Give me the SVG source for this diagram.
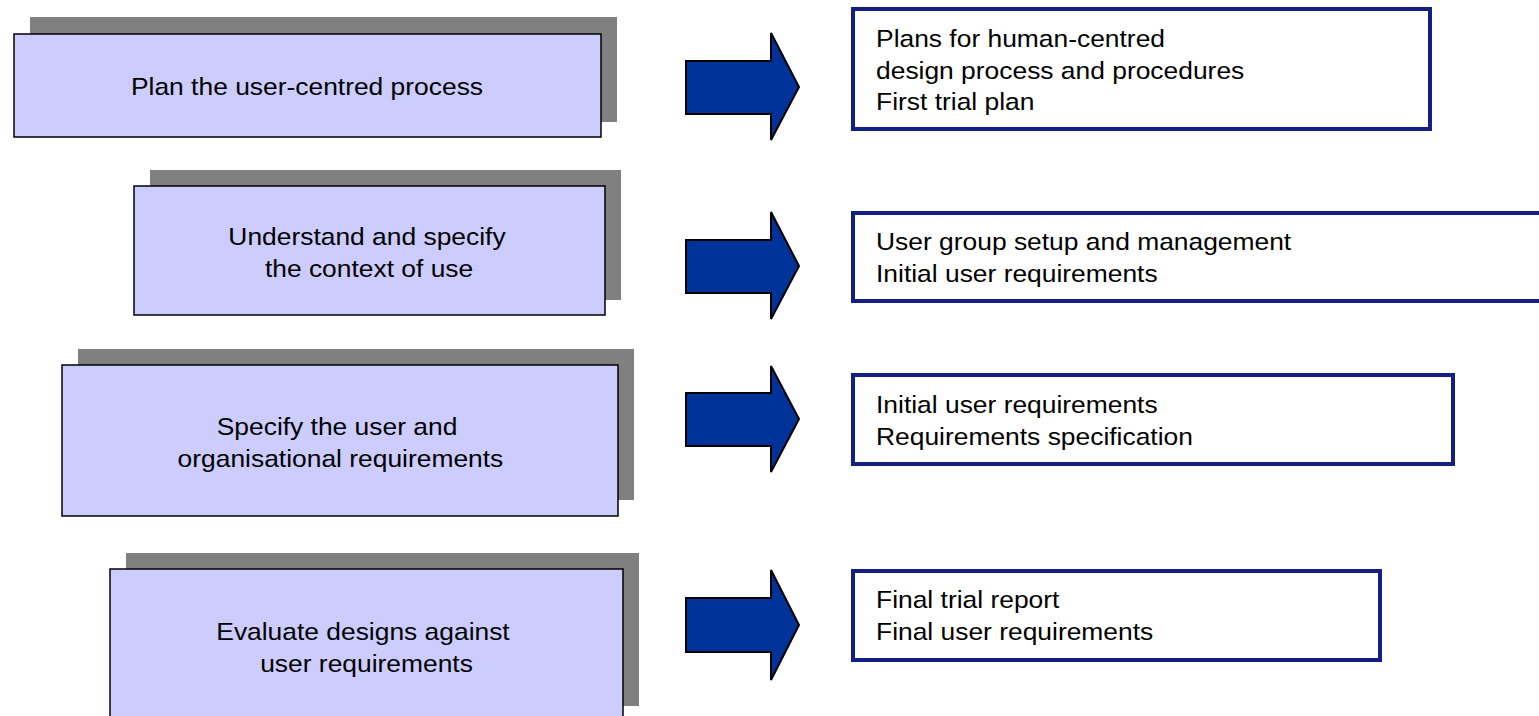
<svg xmlns="http://www.w3.org/2000/svg" width="1539" height="716" viewBox="0 0 1539 716">
<style>
.shadow{fill:#808080;stroke:none}
.step{fill:#CCCCFF;stroke:#000;stroke-width:1.5}
.out{fill:#fff;stroke:#141F86;stroke-width:4}
.arrow{fill:#003399;stroke:#000;stroke-width:2;stroke-linejoin:miter}
text{font-family:"Liberation Sans",Arial,sans-serif;font-size:24px;fill:#000}
.c{text-anchor:middle}
</style>
<rect width="1539" height="716" fill="#fff"/>
<g id="step1">
<rect class="shadow" x="30" y="17" width="587" height="105"/>
<rect class="step" x="14" y="34" width="587" height="103"/>
<text class="c" transform="scale(1.1,1)" x="279.1" y="95">Plan the user-centred process</text>
</g>
<g id="step2">
<rect class="shadow" x="150" y="170" width="471" height="130"/>
<rect class="step" x="134" y="186" width="471" height="129"/>
<text class="c" transform="scale(1.1,1)" x="333.6" y="245">Understand and specify</text>
<text class="c" transform="scale(1.1,1)" x="335.5" y="277">the context of use</text>
</g>
<g id="step3">
<rect class="shadow" x="78" y="349" width="556" height="151"/>
<rect class="step" x="62" y="365" width="556" height="151"/>
<text class="c" transform="scale(1.1,1)" x="306.4" y="435">Specify the user and</text>
<text class="c" transform="scale(1.1,1)" x="309.5" y="467">organisational requirements</text>
</g>
<g id="step4">
<rect class="shadow" x="126" y="553" width="513" height="153"/>
<rect class="step" x="110" y="569" width="513" height="160"/>
<text class="c" transform="scale(1.1,1)" x="330" y="640">Evaluate designs against</text>
<text class="c" transform="scale(1.1,1)" x="333.2" y="672">user requirements</text>
</g>
<g id="connectors">
<path class="arrow" d="M686,61 H771 V33 L799,87 L771,140 V114 H686 Z"/>
<path class="arrow" d="M686,240 H771 V212 L799,266 L771,319 V293 H686 Z"/>
<path class="arrow" d="M686,393 H771 V366 L799,419 L771,472 V446 H686 Z"/>
<path class="arrow" d="M686,598 H771 V570 L799,625 L771,680 V652 H686 Z"/>
</g>
<g id="out1">
<rect class="out" x="853" y="9" width="577" height="120"/>
<text transform="scale(1.1,1)" x="796.4" y="47">Plans for human-centred</text>
<text transform="scale(1.1,1)" x="796.4" y="79">design process and procedures</text>
<text transform="scale(1.1,1)" x="796.4" y="110">First trial plan</text>
</g>
<g id="out2">
<rect class="out" x="853" y="213" width="700" height="88"/>
<text transform="scale(1.1,1)" x="796.4" y="250">User group setup and management</text>
<text transform="scale(1.1,1)" x="796.4" y="282">Initial user requirements</text>
</g>
<g id="out3">
<rect class="out" x="853" y="375" width="600" height="89"/>
<text transform="scale(1.1,1)" x="796.4" y="413">Initial user requirements</text>
<text transform="scale(1.1,1)" x="796.4" y="445">Requirements specification</text>
</g>
<g id="out4">
<rect class="out" x="853" y="571" width="527" height="89"/>
<text transform="scale(1.1,1)" x="796.4" y="608">Final trial report</text>
<text transform="scale(1.1,1)" x="796.4" y="640">Final user requirements</text>
</g>
</svg>
